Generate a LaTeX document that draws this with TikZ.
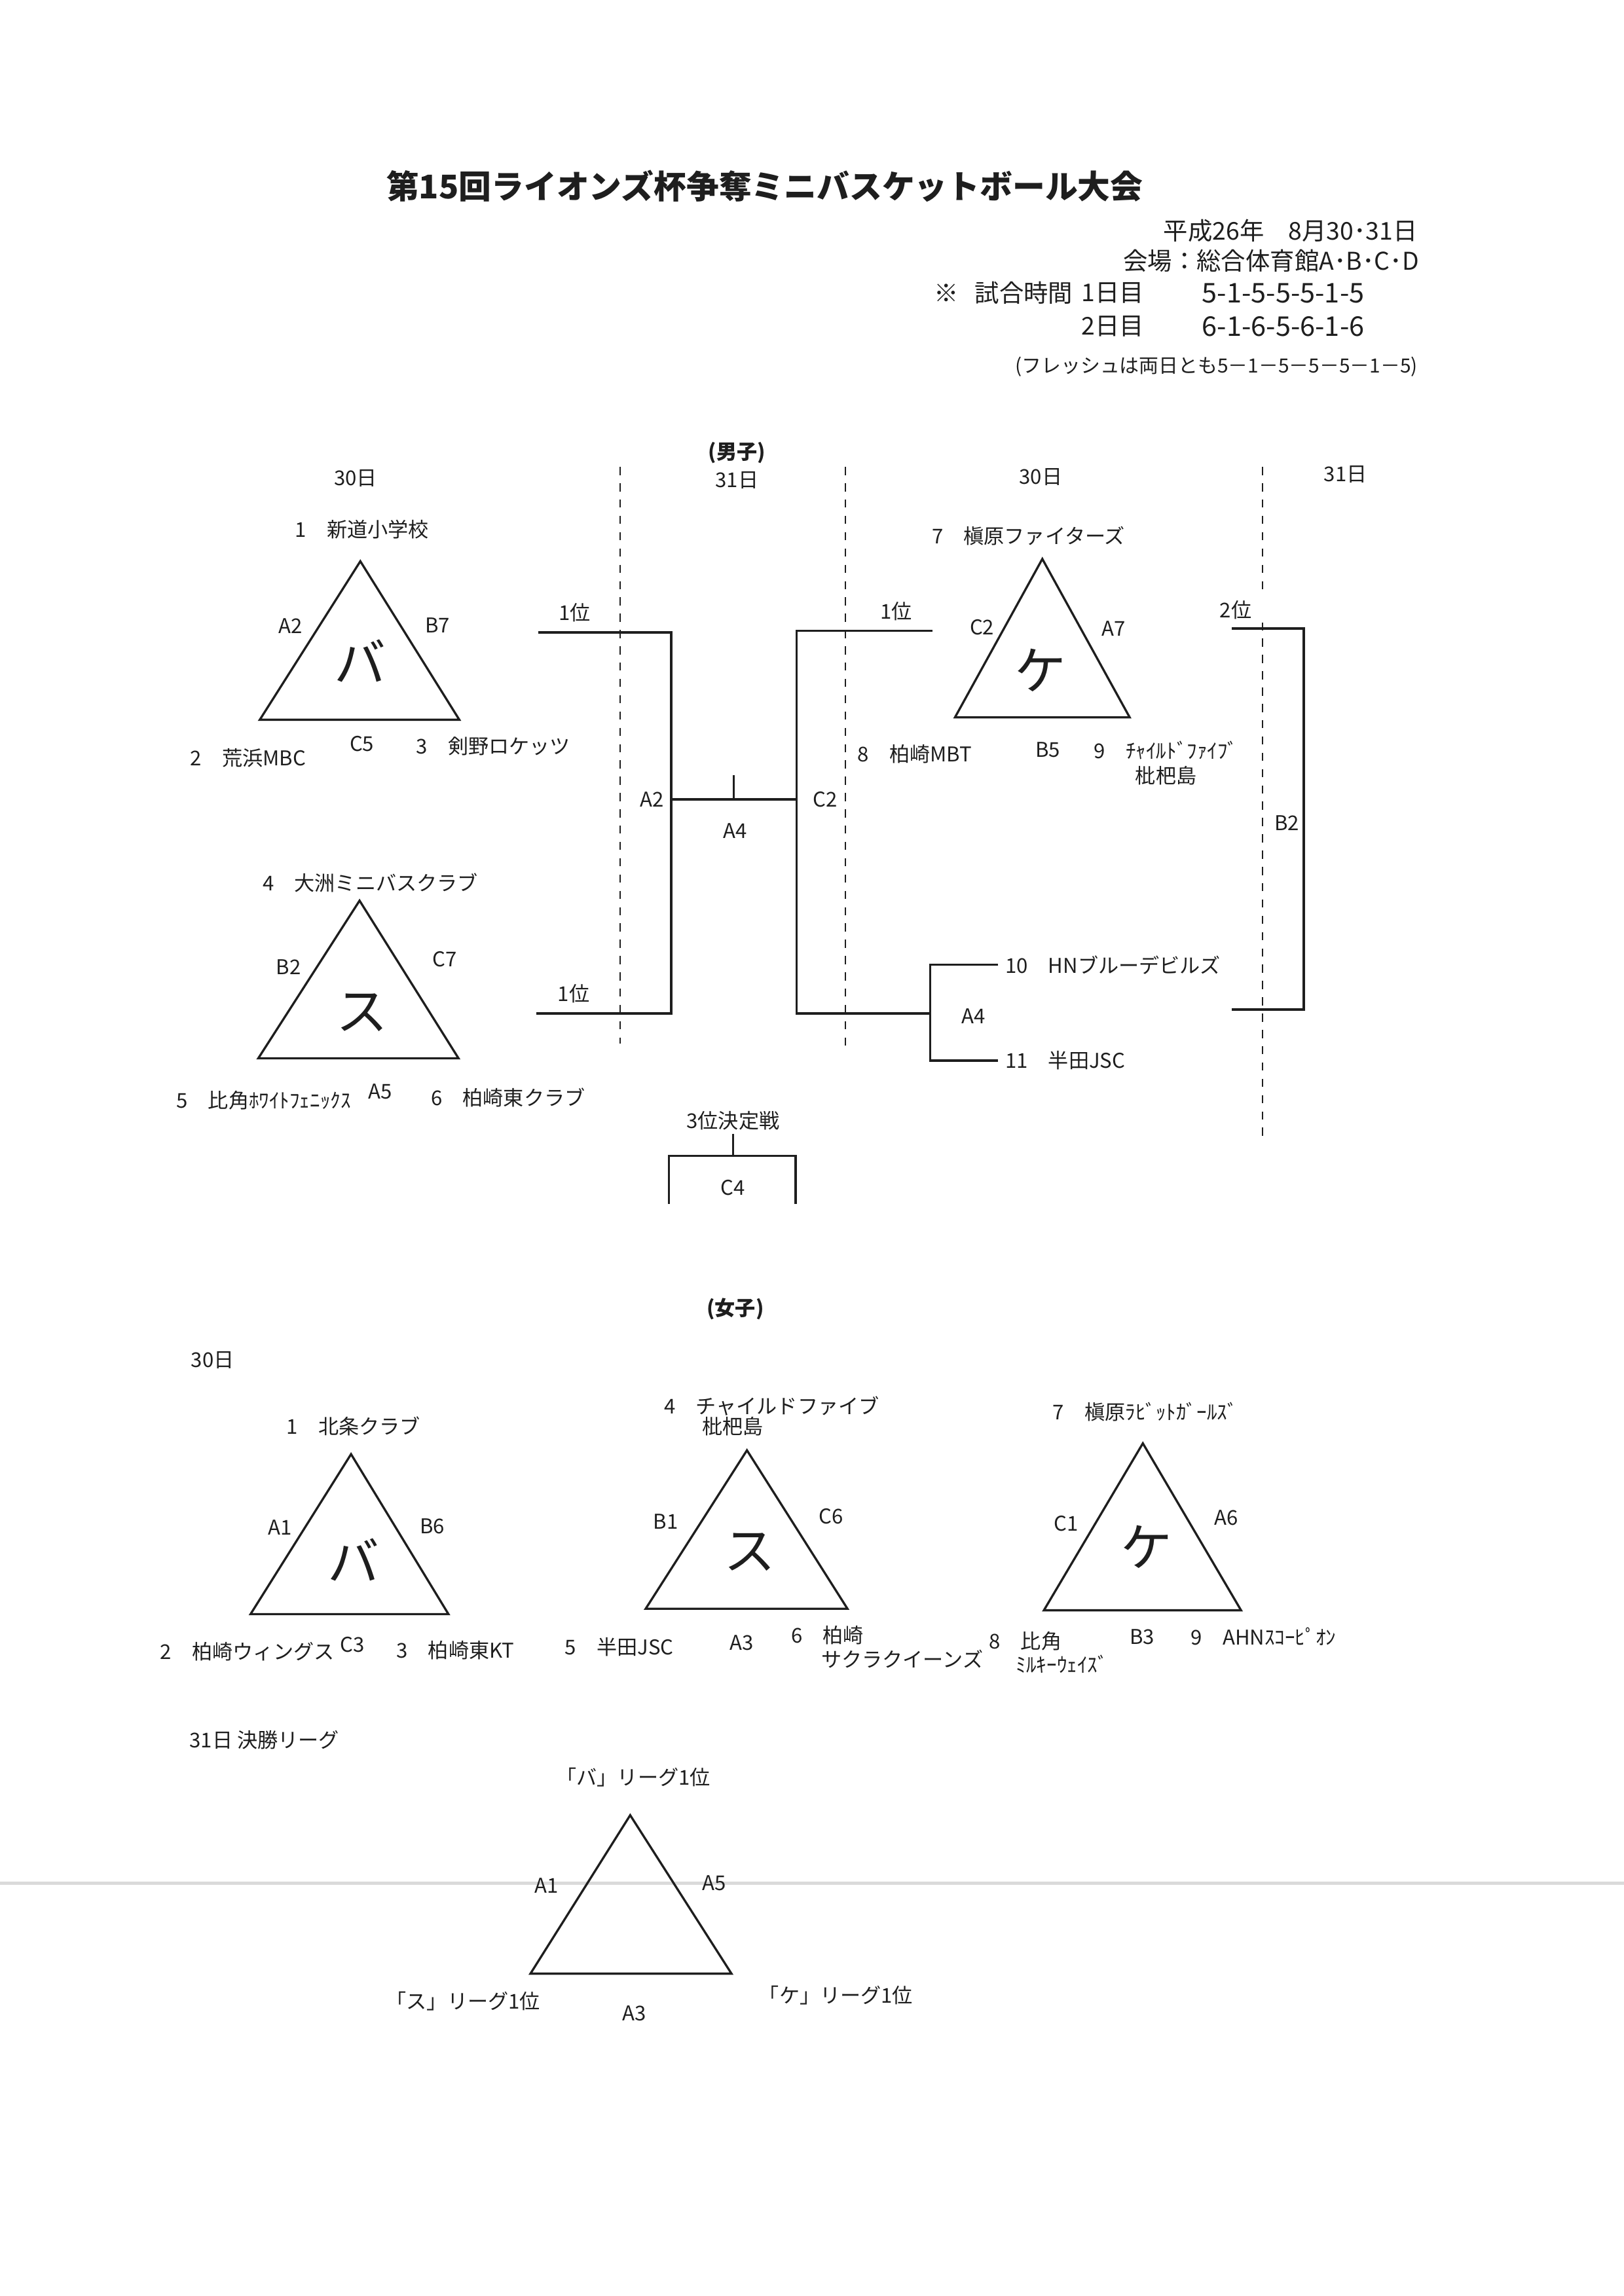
\documentclass[tikz,border=0pt]{standalone}
\usepackage{fontspec}
\usepackage{tikz}
\setmainfont{Noto Sans CJK JP}
\definecolor{scanline}{HTML}{DADADA}
\definecolor{inkgray}{HTML}{1E1E1E}

\begin{document}
\begin{tikzpicture}[inkgray,
  lbl/.style={inner sep=1pt,font=\fontsize{7.5}{9}\selectfont},
  head/.style={inner sep=0pt,font=\fontsize{9}{11}\selectfont},
  kana/.style={inner sep=0pt,font=\fontsize{19}{21}\selectfont},
  tri/.style={line width=0.8pt,line join=miter},
  brk/.style={line width=0.8pt},
  day/.style={dashed,line width=0.5pt}]
  \useasboundingbox (0,0) rectangle (21,-29.7);

  % scanner streak
  \draw[scanline,line width=1.2pt] (0,-24.36) -- (21,-24.36);

  % header
  \node[font=\fontsize{12}{14}\selectfont\bfseries] (title) at (9.89,-2.41)
    {第15回ライオンズ杯争奪ミニバスケットボール大会};
  \node[head,anchor=east] (date) at (18.34,-2.98) {平成26年　8月30･31日};
  \node[head,anchor=east] (venue) at (18.36,-3.37) {会場：総合体育館A･B･C･D};
  \node[head] (mark) at (12.24,-3.79) {※};
  \node[head,anchor=west] (time) at (12.60,-3.79) {試合時間};
  \node[head,anchor=west] (dayA) at (13.98,-3.79) {1日目};
  \node[head,anchor=west,font=\fontsize{10}{11}\selectfont] (ruleA) at (15.54,-3.79) {5-1-5-5-5-1-5};
  \node[head,anchor=west] (dayB) at (13.98,-4.22) {2日目};
  \node[head,anchor=west,font=\fontsize{10}{11}\selectfont] (ruleB) at (15.54,-4.22) {6-1-6-5-6-1-6};
  \node[inner sep=0pt,font=\fontsize{7.2}{8}\selectfont,anchor=east] (fresh)
    at (18.34,-4.74) {(フレッシュは両日とも5－1－5－5－5－1－5)};

  % boys
  \node[lbl,font=\fontsize{7.5}{9}\selectfont\bfseries] (boys) at (9.53,-5.86) {(男子)};
  \node[lbl] (bday1) at (4.60,-6.19) {30日};
  \node[lbl] (bday2) at (9.53,-6.21) {31日};
  \node[lbl] (bday3) at (13.46,-6.17) {30日};
  \node[lbl] (bday4) at (17.40,-6.14) {31日};
  \draw[day] (8.02,-6.04) -- (8.02,-13.50);
  \draw[day] (10.93,-6.04) -- (10.93,-13.58);
  \draw[day] (16.33,-6.04) -- (16.33,-7.63);
  \draw[day] (16.33,-8.05) -- (16.33,-14.70);

  % league ba (boys)
  \coordinate (baT) at (4.66,-7.26);
  \coordinate (baL) at (3.36,-9.31);
  \coordinate (baR) at (5.94,-9.31);
  \draw[tri] (baT) -- (baL) -- (baR) -- cycle;
  \node[kana] (ba) at (4.66,-8.55) {バ};
  \node[lbl] (ba1) at (4.68,-6.85) {1　新道小学校};
  \node[lbl] (ba2) at (3.21,-9.80) {2　荒浜MBC};
  \node[lbl] (ba3) at (6.38,-9.65) {3　剣野ロケッツ};
  \node[lbl] (baA) at (3.76,-8.10) {A2};
  \node[lbl] (baB) at (5.66,-8.09) {B7};
  \node[lbl] (baC) at (4.68,-9.62) {C5};

  % league su (boys)
  \coordinate (suT) at (4.65,-11.65);
  \coordinate (suL) at (3.34,-13.69);
  \coordinate (suR) at (5.93,-13.69);
  \draw[tri] (suT) -- (suL) -- (suR) -- cycle;
  \node[kana] (su) at (4.68,-13.10) {ス};
  \node[lbl] (su4) at (4.79,-11.42) {4　大洲ミニバスクラブ};
  \node[lbl] (su5) at (3.41,-14.23) {5　比角ﾎﾜｲﾄﾌｪﾆｯｸｽ};
  \node[lbl] (su6) at (6.57,-14.20) {6　柏崎東クラブ};
  \node[lbl] (suB) at (3.73,-12.51) {B2};
  \node[lbl] (suC) at (5.75,-12.41) {C7};
  \node[lbl] (suA) at (4.92,-14.12) {A5};

  % league ke (boys)
  \coordinate (keT) at (13.48,-7.23);
  \coordinate (keL) at (12.35,-9.28);
  \coordinate (keR) at (14.61,-9.28);
  \draw[tri] (keT) -- (keL) -- (keR) -- cycle;
  \node[kana] (ke) at (13.46,-8.67) {ケ};
  \node[lbl] (ke7) at (13.30,-6.93) {7　槇原ファイターズ};
  \node[lbl] (ke8) at (11.83,-9.75) {8　柏崎MBT};
  \node[lbl,align=center] (ke9) at (15.08,-9.87) {9　ﾁｬｲﾙﾄﾞﾌｧｲﾌﾞ\\枇杷島};
  \node[lbl] (keC) at (12.70,-8.11) {C2};
  \node[lbl] (keA) at (14.40,-8.13) {A7};
  \node[lbl] (keB) at (13.55,-9.70) {B5};

  % final bracket (boys)
  \coordinate (bW) at (6.96,-8.18);
  \coordinate (bJ) at (8.68,-8.18);
  \coordinate (sW) at (6.94,-13.11);
  \coordinate (sJ) at (8.68,-13.11);
  \coordinate (aL) at (8.68,-10.34);
  \coordinate (aR) at (10.30,-10.34);
  \coordinate (aMid) at (9.49,-10.34);
  \coordinate (aTick) at (9.49,-10.03);
  \coordinate (kW) at (12.06,-8.16);
  \coordinate (kJ) at (10.30,-8.16);
  \coordinate (qJ) at (10.30,-13.11);
  \coordinate (qM) at (12.03,-13.11);
  \coordinate (qT) at (12.03,-12.48);
  \coordinate (qB) at (12.03,-13.72);
  \node[lbl] (bW1) at (7.43,-7.92) {1位};
  \node[lbl] (sW1) at (7.42,-12.85) {1位};
  \node[lbl] (kW1) at (11.59,-7.91) {1位};
  \draw[brk] (bW) -- (bJ) -- (sJ) -- (sW);
  \draw[brk] (kW) -- (kJ) -- (qJ) -- (qM);
  \draw[brk] (aL) -- (aR);
  \draw[brk] (aMid) -- (aTick);
  \node[lbl] (aA) at (8.43,-10.34) {A2};
  \node[lbl] (aC) at (10.67,-10.34) {C2};
  \node[lbl] (aF) at (9.51,-10.75) {A4};
  \node[lbl,anchor=west,inner sep=2.4pt] (hn) at (12.91,-12.48) {10　HNブルーデビルズ};
  \node[lbl,anchor=west,inner sep=2.4pt] (hd) at (12.91,-13.72) {11　半田JSC};
  \draw[brk] (hn.west) -- (qT) -- (qB) -- (hd.west);
  \node[lbl] (qA) at (12.59,-13.14) {A4};

  % second place bracket
  \coordinate (rT1) at (15.93,-8.13);
  \coordinate (rT2) at (16.86,-8.13);
  \coordinate (rB2) at (16.86,-13.06);
  \coordinate (rB1) at (15.93,-13.06);
  \draw[brk] (rT1) -- (rT2) -- (rB2) -- (rB1);
  \node[lbl] (r2) at (15.98,-7.89) {2位};
  \node[lbl] (rB) at (16.64,-10.65) {B2};

  % third place
  \node[lbl] (third) at (9.48,-14.50) {3位決定戦};
  \coordinate (tMid) at (9.48,-14.95);
  \coordinate (tL) at (8.65,-14.95);
  \coordinate (tR) at (10.29,-14.95);
  \coordinate (tLd) at (8.65,-15.57);
  \coordinate (tRd) at (10.29,-15.57);
  \draw[brk] (third.south) -- (tMid);
  \draw[brk] (tLd) -- (tL) -- (tR) -- (tRd);
  \node[lbl] (tC) at (9.48,-15.36) {C4};

  % girls
  \node[lbl,font=\fontsize{7.5}{9}\selectfont\bfseries] (girls) at (9.51,-16.93) {(女子)};
  \node[lbl] (gday1) at (2.75,-17.59) {30日};

  \coordinate (gbT) at (4.54,-18.81);
  \coordinate (gbL) at (3.24,-20.88);
  \coordinate (gbR) at (5.80,-20.88);
  \draw[tri] (gbT) -- (gbL) -- (gbR) -- cycle;
  \node[kana] (gba) at (4.57,-20.18) {バ};
  \node[lbl] (gb1) at (4.57,-18.45) {1　北条クラブ};
  \node[lbl] (gb2) at (3.20,-21.36) {2　柏崎ウィングス};
  \node[lbl] (gb3) at (5.89,-21.35) {3　柏崎東KT};
  \node[lbl] (gbA) at (3.62,-19.76) {A1};
  \node[lbl] (gbB) at (5.59,-19.74) {B6};
  \node[lbl] (gbC) at (4.56,-21.27) {C3};

  \coordinate (gsT) at (9.66,-18.76);
  \coordinate (gsL) at (8.35,-20.81);
  \coordinate (gsR) at (10.96,-20.81);
  \draw[tri] (gsT) -- (gsL) -- (gsR) -- cycle;
  \node[kana] (gsu) at (9.70,-20.08) {ス};
  \node[lbl] (gs4) at (9.98,-18.19) {4　チャイルドファイブ};
  \node[lbl,anchor=west] (gs4b) at (9.04,-18.45) {枇杷島};
  \node[lbl] (gs5) at (8.01,-21.30) {5　半田JSC};
  \node[lbl,anchor=west] (gs6) at (10.19,-21.15) {6　柏崎};
  \node[lbl,anchor=west] (gs6b) at (10.58,-21.46) {サクラクイーンズ};
  \node[lbl] (gsB) at (8.61,-19.68) {B1};
  \node[lbl] (gsC) at (10.75,-19.61) {C6};
  \node[lbl] (gsA) at (9.59,-21.25) {A3};

  \coordinate (gkT) at (14.78,-18.67);
  \coordinate (gkL) at (13.50,-20.83);
  \coordinate (gkR) at (16.05,-20.83);
  \draw[tri] (gkT) -- (gkL) -- (gkR) -- cycle;
  \node[kana] (gke) at (14.83,-20.01) {ケ};
  \node[lbl] (gk7) at (14.81,-18.26) {7　槇原ﾗﾋﾞｯﾄｶﾞｰﾙｽﾞ};
  \node[lbl,anchor=west] (gk8) at (12.75,-21.23) {8　比角};
  \node[lbl,anchor=west] (gk8b) at (13.10,-21.53) {ﾐﾙｷｰｳｪｲｽﾞ};
  \node[lbl] (gk9) at (16.34,-21.17) {9　AHNｽｺｰﾋﾟｵﾝ};
  \node[lbl] (gkC) at (13.79,-19.71) {C1};
  \node[lbl] (gkA) at (15.86,-19.63) {A6};
  \node[lbl] (gkB) at (14.77,-21.17) {B3};

  % final league
  \node[lbl,anchor=west] (gday2) at (2.41,-22.51) {31日 決勝リーグ};
  \coordinate (fT) at (8.15,-23.48);
  \coordinate (fL) at (6.86,-25.53);
  \coordinate (fR) at (9.46,-25.53);
  \draw[tri] (fT) -- (fL) -- (fR) -- cycle;
  \node[lbl] (fba) at (8.19,-22.99) {「バ」リーグ1位};
  \node[lbl] (fsu) at (5.99,-25.89) {「ス」リーグ1位};
  \node[lbl] (fke) at (10.81,-25.81) {「ケ」リーグ1位};
  \node[lbl] (fA1) at (7.07,-24.39) {A1};
  \node[lbl] (fA5) at (9.24,-24.36) {A5};
  \node[lbl] (fA3) at (8.20,-26.04) {A3};
\end{tikzpicture}
\end{document}
